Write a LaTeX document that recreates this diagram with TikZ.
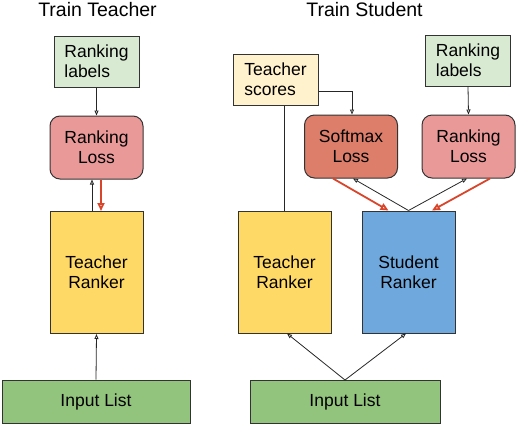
\documentclass[tikz,border=0pt]{standalone}
\usepackage{fontspec}
\setmainfont{Liberation Sans}
\usetikzlibrary{arrows.meta}

\definecolor{labelgreen}{HTML}{D9EAD3}
\definecolor{losspink}{HTML}{EA9999}
\definecolor{softred}{HTML}{DD7E6B}
\definecolor{rankyellow}{HTML}{FFD966}
\definecolor{scoreyellow}{HTML}{FFF2CC}
\definecolor{rankblue}{HTML}{6FA8DC}
\definecolor{inputgreen}{HTML}{93C47D}
\definecolor{gradred}{HTML}{D9452B}
\definecolor{edge}{HTML}{333333}

\tikzset{
  box/.style={draw=edge, line width=1pt, inner sep=0pt, align=left,
    font=\fontsize{17.5}{20}\selectfont},
  lossbox/.style={box, rounded corners=10pt, align=center, minimum width=93pt, minimum height=63pt},
  rankbox/.style={box, align=center, minimum width=93pt, minimum height=122pt},
  inbox/.style={box, fill=inputgreen, minimum height=43pt},
  databox/.style={box, minimum width=85pt, minimum height=51pt},
  fwd/.style={draw=black!85, line width=0.8pt, -{Triangle[open, length=5pt, width=4pt]}},
  grad/.style={draw=gradred, line width=1.8pt, -{Triangle[open, length=8pt, width=7pt]}},
  title/.style={font=\fontsize{19.5}{22}\selectfont}
}

\begin{document}
\begin{tikzpicture}[x=1pt, y=-1pt]
    \useasboundingbox (0,0) rectangle (516,426);

    % train teacher
    \node[title] (ttitle) at (97.5, 10) {Train Teacher};
    \node[databox, fill=labelgreen] (tlab) at (96.5, 61.5) {Ranking\\labels};
    \node[lossbox, fill=losspink] (tloss) at (96.5, 147.5) {Ranking\\Loss};
    \node[rankbox, fill=rankyellow] (trank) at (96.5, 272.5) {Teacher\\Ranker};
    \node[inbox, minimum width=188pt] (tin) at (96, 401.5) {Input List};

    \draw[fwd] (tlab.south) -- (tloss.north);
    \draw[fwd] ([xshift=-4.5pt]trank.north) -- ([xshift=-4.5pt]tloss.south);
    \draw[grad] ([xshift=4.5pt]tloss.south) -- ([xshift=4.5pt]trank.north);
    \draw[fwd] (tin.north) -- (trank.south);

    % train student
    \node[title] (stitle) at (364.5, 10) {Train Student};
    \node[databox, fill=scoreyellow] (tsc) at (275.5, 79.5) {Teacher\\scores};
    \node[databox, fill=labelgreen] (rlab) at (468, 60.5) {Ranking\\labels};
    \node[lossbox, fill=softred] (sloss) at (351, 146.5) {Softmax\\Loss};
    \node[lossbox, fill=losspink] (rloss) at (468.5, 146.5) {Ranking\\Loss};
    \node[rankbox, fill=rankyellow] (trank2) at (284.5, 272) {Teacher\\Ranker};
    \node[rankbox, fill=rankblue] (srank) at (408.5, 272) {Student\\Ranker};
    \node[inbox, minimum width=190pt] (sin) at (345, 402) {Input List};

    \draw[fwd] ([yshift=-11.5pt]tsc.east) -| ([xshift=1pt]sloss.north);
    \draw[fwd] (rlab.south) -- (rloss.north);
    \draw[draw=black!85, line width=0.8pt] (trank2.north |- tsc.south) -- (trank2.north);
    \draw[fwd] (sin.north) -- ([xshift=2.5pt]trank2.south);
    \draw[fwd] (sin.north) -- ([xshift=-2.5pt]srank.south);
    \draw[fwd] (srank.north) -- ([xshift=2pt]sloss.south);
    \draw[fwd] (srank.north) -- ([xshift=-1.5pt]rloss.south);
    \draw[grad] ([xshift=-18pt]sloss.south) -- ([xshift=-20pt]srank.north);
    \draw[grad] ([xshift=21.5pt]rloss.south) -- ([xshift=23.5pt]srank.north);

\end{tikzpicture}
\end{document}
